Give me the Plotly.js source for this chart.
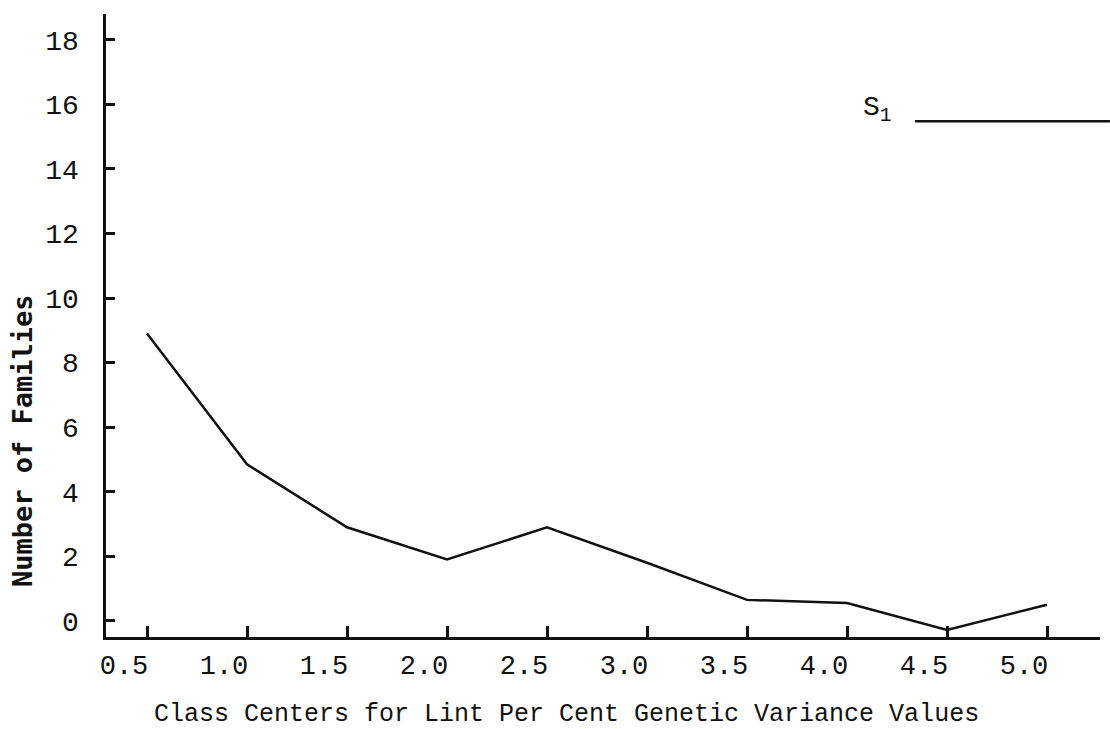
<!DOCTYPE html>
<html>
<head>
<meta charset="utf-8">
<script src="https://cdn.plot.ly/plotly-3.0.1.min.js"></script>
<style>
  html, body { margin: 0; padding: 0; background: #ffffff; }
  #chart { width: 1110px; height: 729px; }
</style>
</head>
<body>
<div id="chart"></div>
<script>
// Data
const classCenters = [0.5, 1.0, 1.5, 2.0, 2.5, 3.0, 3.5, 4.0, 4.5, 5.0];
const families     = [8.9, 4.85, 2.9, 1.9, 2.9, 1.8, 0.65, 0.55, -0.28, 0.5];
const xTickValues  = [0.5, 1.0, 1.5, 2.0, 2.5, 3.0, 3.5, 4.0, 4.5, 5.0];
const xTickLabels  = ['0.5', '1.0', '1.5', '2.0', '2.5', '3.0', '3.5', '4.0', '4.5', '5.0'];
const yTickValues  = [0, 2, 4, 6, 8, 10, 12, 14, 16, 18];
const yTickLabels  = ['0', '2', '4', '6', '8', '10', '12', '14', '16', '18'];
const seriesName   = 'S<sub>1</sub>';
const xTitle       = 'Class Centers for Lint Per Cent Genetic Variance Values';
const yTitle       = 'Number of Families';

const typewriter = 'Liberation Mono, Courier New, monospace';
const ink = '#111111';

const trace = {
  x: classCenters,
  y: families,
  type: 'scatter',
  mode: 'lines',
  name: seriesName,
  line: { color: ink, width: 2.5 },
  showlegend: false,
  hoverinfo: 'x+y'
};

const layout = {
  width: 1110,
  height: 729,
  paper_bgcolor: '#ffffff',
  plot_bgcolor: '#ffffff',
  margin: { l: 106, r: 10, t: 14, b: 92 },
  showlegend: false,
  xaxis: {
    range: [0.295, 5.265],
    tickmode: 'array',
    tickvals: xTickValues,
    ticktext: xTickLabels,
    ticks: 'inside',
    ticklen: 11,
    tickwidth: 3,
    tickcolor: ink,
    showline: true,
    linecolor: ink,
    linewidth: 2.5,
    showgrid: false,
    zeroline: false,
    ticklabelshift: -23,
    ticklabelstandoff: 2,
    tickfont: { family: typewriter, size: 27, color: ink },
    fixedrange: true
  },
  yaxis: {
    range: [-0.5, 18.8],
    tickmode: 'array',
    tickvals: yTickValues,
    ticktext: yTickLabels,
    ticks: 'inside',
    ticklen: 9,
    tickwidth: 3,
    tickcolor: ink,
    showline: true,
    linecolor: ink,
    linewidth: 3.5,
    showgrid: false,
    zeroline: false,
    ticklabelstandoff: 18,
    tickfont: { family: typewriter, size: 28, color: ink },
    fixedrange: true
  },
  annotations: [
    {
      xref: 'paper', yref: 'paper',
      x: 0.463, y: 0,
      yshift: -77,
      xanchor: 'center', yanchor: 'middle',
      showarrow: false,
      text: xTitle,
      font: { family: typewriter, size: 25, color: ink }
    },
    {
      xref: 'paper', yref: 'paper',
      x: -0.0845, y: 0.3146,
      xanchor: 'center', yanchor: 'middle',
      textangle: -90,
      showarrow: false,
      text: yTitle,
      font: { family: 'DejaVu Sans Mono, monospace', size: 27, color: ink, weight: 'bold' }
    },
    {
      xref: 'paper', yref: 'paper',
      x: 0.776, y: 0.846,
      xanchor: 'center', yanchor: 'middle',
      showarrow: false,
      text: seriesName,
      font: { family: typewriter, size: 28, color: ink }
    }
  ],
  shapes: [
    {
      type: 'line',
      xref: 'paper', yref: 'paper',
      x0: 0.814, x1: 1.01,
      y0: 0.828, y1: 0.828,
      line: { color: ink, width: 2.5 }
    }
  ]
};

Plotly.newPlot('chart', [trace], layout, { displayModeBar: false, staticPlot: true });
</script>
</body>
</html>
